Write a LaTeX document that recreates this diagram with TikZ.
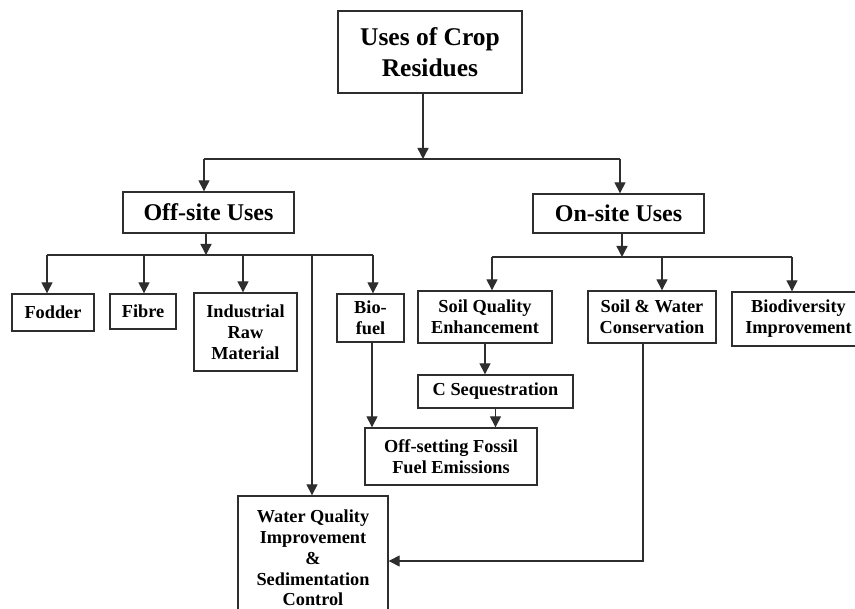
\documentclass[tikz,border=0pt]{standalone}
\usepackage{fontspec}
\setmainfont{Liberation Serif}
\usetikzlibrary{arrows.meta}
\definecolor{linec}{HTML}{2E2E2E}
\begin{document}
\begin{tikzpicture}[x=1pt,y=-1pt,
  nbox/.style={draw=linec, line width=1.4pt, inner sep=0pt, align=center, text=black,
    font=\fontsize{18.3}{20.8}\selectfont\bfseries},
  mid/.style={font=\fontsize{24}{29}\selectfont\bfseries},
  ttl/.style={font=\fontsize{25.5}{31}\selectfont\bfseries},
  arr/.style={draw=linec, line width=1.4pt, -{Triangle[length=11pt,width=11pt]}},
  ln/.style={draw=linec, line width=1.4pt}]
\useasboundingbox (0,0) rectangle (855,609);
\fill[white] (0,0) rectangle (855,609);

% boxes
\node[nbox, ttl, minimum width=184pt, minimum height=82pt] (top) at (430,52) {Uses of Crop\\Residues};
\node[nbox, mid, minimum width=171pt, minimum height=41pt] (off) at (208.5,212.5) {Off-site Uses};
\node[nbox, mid, minimum width=171pt, minimum height=39pt] (on) at (618.5,213.5) {On-site Uses};
\node[nbox, minimum width=82pt, minimum height=37pt] (fod) at (53,312.5) {Fodder};
\node[nbox, minimum width=66pt, minimum height=35pt] (fib) at (143,311.5) {Fibre};
\node[nbox, minimum width=103pt, minimum height=78pt] (ind) at (245.5,332) {Industrial\\Raw\\Material};
\node[nbox, minimum width=67pt, minimum height=48pt] (bio) at (370.5,318) {Bio-\\fuel};
\node[nbox, minimum width=134pt, minimum height=52pt] (sq) at (485,317) {Soil Quality\\Enhancement};
\node[nbox, minimum width=128pt, minimum height=52pt] (sw) at (652,317) {Soil \& Water\\Conservation};
\node[nbox, minimum width=133pt, minimum height=54pt] (bd) at (798.5,319) {Biodiversity\\Improvement};
\node[nbox, minimum width=155pt, minimum height=33pt] (cs) at (495.5,391.5) {C Sequestration};
\node[nbox, minimum width=172pt, minimum height=57pt] (ofs) at (451,456.5) {Off-setting Fossil\\Fuel Emissions};
\node[nbox, minimum width=150pt, minimum height=124pt] (wq) at (313,558) {Water Quality\\Improvement\\\&\\Sedimentation\\Control};

% level 1
\coordinate (j1) at (423,159);
\coordinate (l1) at (204,159);
\coordinate (r1) at (620,159);
\draw[arr] (top.south -| j1) -- (j1);
\draw[ln] (l1) -- (r1);
\draw[arr] (l1) -- (l1 |- off.north);
\draw[arr] (r1) -- (r1 |- on.north);

% off-site branch
\coordinate (j2) at (206,255);
\coordinate (a1) at (47,255);
\coordinate (a2) at (144,255);
\coordinate (a3) at (243,255);
\coordinate (a4) at (312,255);
\coordinate (a5) at (373,255);
\draw[arr] (j2 |- off.south) -- (j2);
\draw[ln] (a1) -- (a5);
\draw[arr] (a1) -- (a1 |- fod.north);
\draw[arr] (a2) -- (a2 |- fib.north);
\draw[arr] (a3) -- (a3 |- ind.north);
\draw[arr] (a4) -- (a4 |- wq.north);
\draw[arr] (a5) -- (a5 |- bio.north);

% on-site branch
\coordinate (j3) at (622,257);
\coordinate (b1) at (492,257);
\coordinate (b2) at (662,257);
\coordinate (b3) at (792,257);
\draw[arr] (j3 |- on.south) -- (j3);
\draw[ln] (b1) -- (b3);
\draw[arr] (b1) -- (b1 |- sq.north);
\draw[arr] (b2) -- (b2 |- sw.north);
\draw[arr] (b3) -- (b3 |- bd.north);

% lower links
\draw[arr] (sq.south) -- (sq.south |- cs.north);
\draw[arr] (cs.south) -- (cs.south |- ofs.north);
\draw[arr] ([xshift=1.5pt]bio.south) -- ([xshift=1.5pt]bio.south |- ofs.north);
\coordinate (d1) at (643,561);
\draw[arr] (d1 |- sw.south) -- (d1) -- (d1 -| wq.east);
\end{tikzpicture}
\end{document}
